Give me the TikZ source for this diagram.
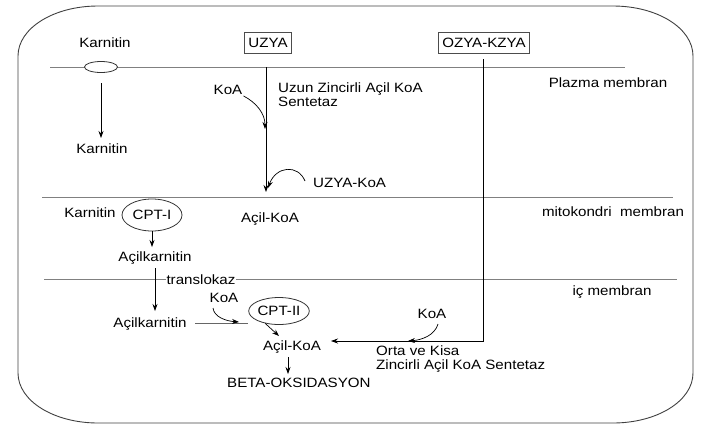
\documentclass[tikz,border=0pt]{standalone}
\usepackage{fontspec}
\setmainfont{Liberation Sans}[FakeStretch=1.12]
\usetikzlibrary{shapes.geometric,arrows.meta}
\begin{document}
\begin{tikzpicture}[x=1pt,y=-1pt,
  every node/.style={font=\fontsize{13.5}{14}\selectfont,inner sep=1pt},
  lbl/.style={},
  box/.style={draw=black!70,line width=0.8pt,minimum height=21pt,inner xsep=4pt},
  enz/.style={draw=black!80,ellipse,line width=0.8pt,inner sep=0pt},
  memb/.style={draw=black!50,line width=0.9pt},
  arr/.style={draw=black,line width=0.7pt,-{Stealth[length=7pt,width=5pt]}},
  plain/.style={draw=black,line width=0.7pt}]
\useasboundingbox (0,0) rectangle (710,432);
% outer cell
\draw[draw=black!75,line width=0.9pt]
  (98,6) -- (613,6) .. controls (657,6) and (693,28) .. (693,56)
  -- (693,373) .. controls (693,401) and (657,423) .. (613,423)
  -- (98,423) .. controls (54,423) and (18,401) .. (18,373)
  -- (18,56) .. controls (18,28) and (54,6) .. (98,6) -- cycle;
% membranes
\coordinate (pmL) at (50,67); \coordinate (pmR) at (625,67);
\coordinate (mmL) at (42,197); \coordinate (mmR) at (673,197);
\coordinate (imL) at (44,279); \coordinate (imR) at (677,279);
\draw[memb] (pmL) -- (pmR);
\draw[memb] (mmL) -- (mmR);
\draw[memb] (imL) -- (imR);
% membrane labels
\node (plz) at (608,83) {Plazma membran};
\node (mito) at (613,212) {mitokondri\ \ membran};
\node (ic) at (612,292) {iç membran};
% carnitine transport
\node (karTop) at (105,43) {Karnitin};
\node[enz,minimum width=33pt,minimum height=11pt,fill=white] (chan) at (101,67) {};
\coordinate (chanOut) at (101,83);
\node (karBot) at (102,149) {Karnitin};
\coordinate (karBotIn) at (101,138);
\draw[arr] (chanOut) -- (karBotIn);
% UZYA
\node[box] (uzya) at (268,43) {UZYA};
\coordinate (uzStart) at (266,67);
\coordinate (uzEnd) at (266,192);
\draw[arr] (uzStart) -- (uzEnd);
\node (koa1) at (228,90) {KoA};
\coordinate (koa1in) at (265,129);
\draw[arr] (koa1.south east) .. controls (257,103) and (265,114) .. (koa1in);
\node[anchor=west,align=left] (uzs) at (277,95) {Uzun Zincirli Açil KoA\\Sentetaz};
\node[anchor=west] (uzkoa) at (312,183) {UZYA-KoA};
\coordinate (uzkoaIn) at (268,188);
\draw[arr] (305,181) .. controls (298,164) and (276,166) .. (uzkoaIn);
% OZYA-KZYA
\node[box] (ozya) at (484,43) {OZYA-KZYA};
\coordinate (ozStart) at (483,59);
\coordinate (ozTurn) at (483,341);
\coordinate (ozTip) at (331,341);
\draw[arr] (ozStart) -- (ozTurn) -- (ozTip);
\node (koa3) at (432,314) {KoA};
\coordinate (koa3in) at (408,341);
\draw[arr] (438,324) .. controls (435,335) and (422,340) .. (koa3in);
\node[anchor=west,align=left] (oks) at (375,359) {Orta ve Kisa\\Zincirli Açil KoA Sentetaz};
% mitochondrial outer
\node (kar3) at (90,213) {Karnitin};
\node[enz,minimum width=60pt,minimum height=32pt] (cpt1) at (152,215) {CPT-I};
\node (acil1) at (270,219) {Açil-KoA};
\node (ak1) at (155,258) {Açilkarnitin};
\coordinate (ak1in) at (152,247);
\draw[arr] (cpt1.south) -- (ak1in);
\node[fill=white,inner sep=1pt] (trans) at (201,280) {translokaz};
\node (ak2) at (150,324) {Açilkarnitin};
\coordinate (ak1out) at (155,268);
\coordinate (ak2in) at (155,311);
\draw[arr] (ak1out) -- (ak2in);
% matrix
\node[enz,minimum width=60pt,minimum height=27pt] (cpt2) at (279,311) {CPT-II};
\node (koa2) at (224,298) {KoA};
\coordinate (ak2line) at (248,323);
\draw[draw=black!60,line width=0.7pt] (195,323) -- (ak2line);
\coordinate (koa2in) at (239,322);
\draw[arr] (213,308) .. controls (214,317) and (226,321) .. (koa2in);
\node (acil2) at (292,347) {Açil-KoA};
\coordinate (acil2in) at (279,336);
\draw[arr] (cpt2.222) -- (acil2in);
\node[anchor=west] (beta) at (226,383) {BETA-OKSIDASYON};
\coordinate (betaIn) at (288,374);
\coordinate (acil2out) at (288,357);
\draw[arr] (acil2out) -- (betaIn);
\end{tikzpicture}
\end{document}
